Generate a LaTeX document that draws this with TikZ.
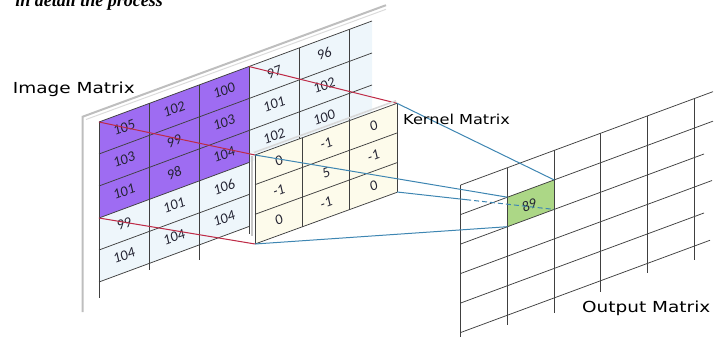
\documentclass[tikz,border=0pt]{standalone}
\usepackage{fontspec}
\setmainfont{Liberation Serif}
\newfontfamily\labelfont{DejaVu Sans}
\newfontfamily\numfont{Carlito}
\usetikzlibrary{calc}
\definecolor{cellpurple}{RGB}{158,108,242}
\definecolor{cellblue}{RGB}{238,246,251}
\definecolor{kernelfill}{RGB}{253,251,235}
\definecolor{outgreen}{RGB}{172,215,134}
\definecolor{linkred}{RGB}{190,42,70}
\definecolor{linkblue}{RGB}{62,134,178}
\definecolor{gridline}{RGB}{64,64,64}
\definecolor{board}{RGB}{190,190,190}
\definecolor{numtext}{RGB}{35,35,50}
\tikzset{
  gridln/.style={draw=gridline, line width=0.75pt},
  num/.style={font=\numfont\itshape\fontsize{14.5}{14.5}\selectfont, text=numtext, rotate=20, inner sep=0pt},
  lbl/.style={font=\labelfont\fontsize{15.2}{15.2}\selectfont, inner sep=0pt, text=black},
  redlink/.style={draw=linkred, line width=1pt},
  bluelink/.style={draw=linkblue, line width=1pt},
}
\begin{document}
\begin{tikzpicture}[x=1pt,y=-1pt]
\useasboundingbox (0,0) rectangle (725,347);

% heading line above the figure, cut by the top edge
\node[anchor=base east, inner sep=0pt, font=\bfseries\itshape\fontsize{18}{18}\selectfont] (heading) at (163,6.5) {in detail the process};

% ---------- image matrix board ----------
\draw[board, line width=2pt] (82.7,312) -- (82.7,116.7) -- (386,5.2);
\draw[board!55, line width=1pt] (86,119.5) -- (386,9.3);

% corner points of the image plane
\coordinate (pTL) at (99,122);
\coordinate (pTR) at (249,66.5);
\coordinate (pBL) at (99,218);
\coordinate (pBR) at (249,162.5);

% cell fills
\fill[cellblue] (99,218) -- (249,162.5) -- (249,226.5) -- (99,282) -- cycle;
\fill[cellblue] (249,66.5) -- (372,21) -- (372,117) -- (249,162.5) -- cycle;
\fill[cellpurple] (pTL) -- (pTR) -- (pBR) -- (pBL) -- cycle;

% grid lines of the image matrix
\foreach \k in {0,1,2}
  \draw[gridln] (99,{122+32*\k}) -- (372,{122+32*\k-0.37*273});
\foreach \k in {3,4,5}
  \draw[gridln] (99,{122+32*\k}) -- (249,{122+32*\k-0.37*150});
\draw[gridln] (99,122) -- (99,298);
\draw[gridln] (149,103.5) -- (149,270);
\draw[gridln] (199,85) -- (199,260);
\draw[gridln] (249,66.5) -- (249,234);
\draw[gridln] (299,48) -- (299,144);
\draw[gridln] (349,29.5) -- (349,126);

% image values
\foreach \c/\r/\v in {0/0/105, 1/0/102, 2/0/100, 3/0/97, 4/0/96,
                      0/1/103, 1/1/99, 2/1/103, 3/1/101, 4/1/102,
                      0/2/101, 1/2/98, 2/2/104, 3/2/102, 4/2/100,
                      0/3/99, 1/3/101, 2/3/106,
                      0/4/104, 1/4/104, 2/4/104}
  \node[num] (im-\c-\r) at ({124+50*\c}, {137+32*\r-0.37*(25+50*\c)}) {\v};

% ---------- kernel matrix ----------
\coordinate (kTL) at (255,155);
\coordinate (kTR) at (397,103.3);
\coordinate (kBL) at (255,244);
\coordinate (kBR) at (397,192);

% projection of the receptive field onto the kernel
\draw[redlink] (pTL) -- (kTL);
\draw[redlink] (pBL) -- (kBL);
\draw[redlink] (pTR) -- (kTR);

\fill[kernelfill] (kTL) -- (kTR) -- (kBR) -- (kBL) -- cycle;
\draw[gray!45, line width=2pt] (251.5,236) -- (251.5,156.5);
\draw[gray!30, line width=1.6pt] (254,152.5) -- (396,100.8);
\foreach \k in {0,1,2,3}
  \draw[gridln] (255,{155+29.67*\k}) -- (397,{155+29.67*\k-0.364*142});
\foreach \c in {0,1,2,3}
  \draw[gridln] ({255+47.33*\c},{155-0.364*47.33*\c}) -- ({255+47.33*\c},{244-0.364*47.33*\c});

\foreach \c/\r/\v in {0/0/0, 1/0/-1, 2/0/0,
                      0/1/-1, 1/1/5, 2/1/-1,
                      0/2/0, 1/2/-1, 2/2/0}
  \node[num] (k-\c-\r) at ({278.7+47.33*\c}, {169.3+29.67*\r-0.364*(23.67+47.33*\c)}) {\v};

% ---------- output matrix ----------
\coordinate (oTL) at (507.4,197.2);
\coordinate (oTR) at (554.1,179.9);
\coordinate (oBL) at (507.4,226.7);
\coordinate (oBR) at (554.1,209.4);

\fill[outgreen] (oTL) -- (oTR) -- (oBR) -- (oBL) -- cycle;
\foreach \k/\e in {0/713, 1/713, 2/704, 3/712, 4/704, 5/710}
  \draw[gridln] (460.7,{185+29.5*\k}) -- (\e,{185+29.5*\k-0.37*(\e-460.7)});
\foreach \c/\b in {0/336.7, 1/325, 2/313.3, 3/291.7, 4/273.3, 5/260}
  \draw[gridln] ({460.7+46.7*\c},{185-0.37*46.7*\c}) -- ({460.7+46.7*\c},\b);

\node[num, rotate=0, font=\numfont\itshape\fontsize{14.5}{14.5}\selectfont] (res) at (529,205) {89};

% ---------- kernel to output links ----------
\draw[bluelink] (kTR) -- (oTR);
\draw[bluelink] (kTL) -- (oTL);
\coordinate (hide) at ($(kBR)!0.44!(oBR)$);
\draw[bluelink] (kBR) -- (hide);
\draw[bluelink, dashed, dash pattern=on 5pt off 3pt] (hide) -- (oBR);
\draw[bluelink] (kBL) -- (oBL);

% ---------- labels ----------
\node[lbl, anchor=east] (imglbl) at (135,89) {\scalebox{1.215}[1]{Image Matrix}};
\node[lbl, anchor=west, font=\labelfont\fontsize{13.7}{13.7}\selectfont] (kerlbl) at (403,119) {\scalebox{1.18}[1]{Kernel Matrix}};
\node[lbl, anchor=west] (outlbl) at (582,308) {\scalebox{1.215}[1]{Output Matrix}};
\end{tikzpicture}
\end{document}
